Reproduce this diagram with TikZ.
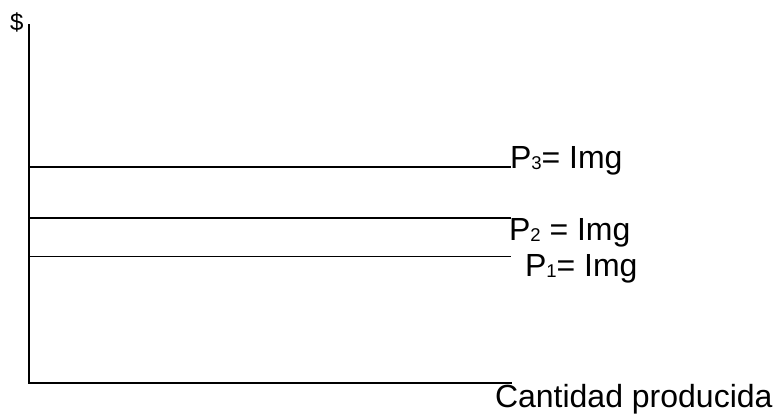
\documentclass[tikz,border=0pt]{standalone}
\usepackage{fontspec}
\setmainfont{Liberation Sans}
\newfontfamily\labfont{Liberation Sans}
\newcommand{\labsize}{\labfont\fontsize{32}{38}\selectfont}
\newcommand{\sbs}[1]{\raisebox{-1.5pt}{\labfont\fontsize{18.5}{22}\selectfont #1}}
\tikzset{
  axisline/.style={line width=1.3pt, black},
  levelline/.style={line width=1.3pt, black},
  lab/.style={anchor=base west, inner sep=0pt, outer sep=0pt, font=\labsize},
}
\begin{document}
\begin{tikzpicture}[x=1pt,y=-1pt]
\useasboundingbox (0,0) rectangle (776,416);
\coordinate (ytop) at (29,24);
\coordinate (o) at (29,383);
\coordinate (xend) at (512,383);
\coordinate (l3a) at (29,167);
\coordinate (l3b) at (511,167);
\coordinate (l2a) at (29,218);
\coordinate (l2b) at (511,218);
\coordinate (l1a) at (29,256.5);
\coordinate (l1b) at (511,256.5);
\draw[axisline] (ytop) -- (o) -- (xend);
\draw[levelline] (l3a) -- (l3b);
\draw[levelline] (l2a) -- (l2b);
\draw[levelline] (l1a) -- (l1b);
\node[lab, font=\labfont\fontsize{24}{28}\selectfont] (dollar) at (10,30) {\$};
\node[lab] (p3) at (510,168) {P\sbs{3}= Img};
\node[lab] (p2) at (509,240) {P\sbs{2} = Img};
\node[lab] (p1) at (525,276) {P\sbs{1}= Img};
\node[lab] (cant) at (495,407) {Cantidad producida};
\end{tikzpicture}
\end{document}
